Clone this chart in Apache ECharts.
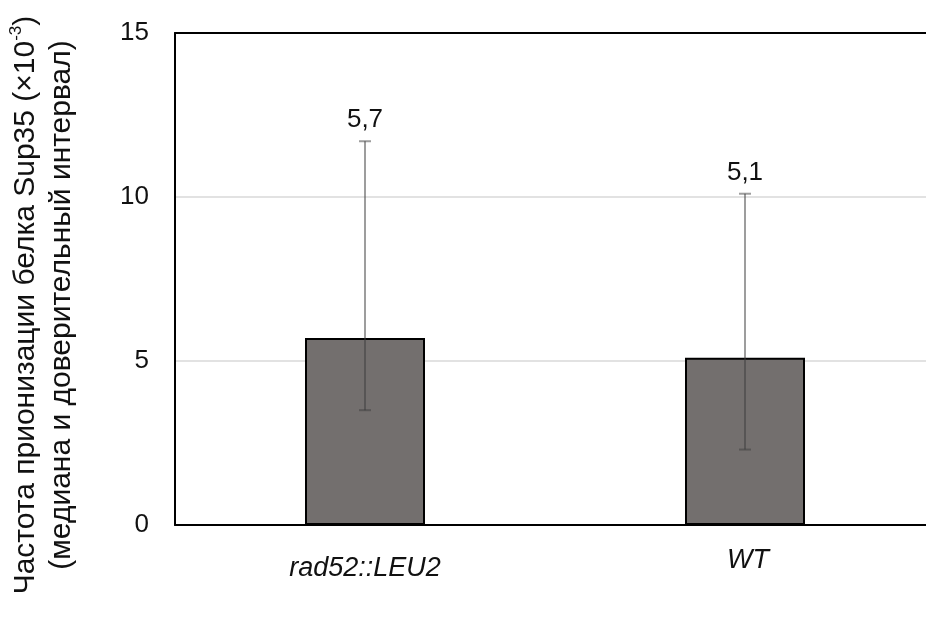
<!DOCTYPE html>
<html>
<head>
<meta charset="utf-8">
<script src="https://cdn.jsdelivr.net/npm/echarts@6/dist/echarts.min.js"></script>
<style>html,body{margin:0;padding:0;background:#fff;overflow:hidden}#c{width:935px;height:619px}</style>
</head>
<body>
<div id="c"></div>
<script>
var categories = ['rad52::LEU2', 'WT'];
var medians = [5.7, 5.1];
var lowerCI = [3.5, 2.3];
var upperCI = [11.7, 10.1];
var yTicks = [0, 5, 10, 15];

var chart = echarts.init(document.getElementById('c'), null, {renderer: 'canvas'});
var FONT = '"Liberation Sans", Arial, sans-serif';

var errData = categories.map(function (c, i) { return [i, lowerCI[i], upperCI[i], medians[i]]; });

var option = {
  backgroundColor: '#fff',
  animation: false,
  grid: {left: 175, top: 33, right: 0, bottom: 94},
  xAxis: [{
    type: 'category', data: categories, position: 'bottom',
    axisLine: {lineStyle: {color: '#000', width: 2}},
    axisTick: {show: false},
    axisLabel: {
      interval: 0, margin: 22, color: '#111', fontSize: 27, fontFamily: FONT, fontStyle: 'italic',
      formatter: function (v, i) { return i === 0 ? '{a|' + v + '}' : '{b|' + v + '}'; },
      rich: {
        a: {fontSize: 27, fontFamily: FONT, fontStyle: 'italic', color: '#111', padding: [8, 0, 0, 0]},
        b: {fontSize: 27, fontFamily: FONT, fontStyle: 'italic', color: '#111', padding: [0, 0, 0, 6]}
      }
    }
  }, {
    type: 'category', data: categories, position: 'top',
    axisLine: {lineStyle: {color: '#000', width: 2}},
    axisTick: {show: false}, axisLabel: {show: false}
  }],
  yAxis: {
    type: 'value', min: 0, max: 15, interval: 5,
    axisLine: {show: true, lineStyle: {color: '#000', width: 2}},
    axisTick: {show: false},
    axisLabel: {margin: 26, color: '#111', fontSize: 26, fontFamily: FONT,
      formatter: function (v) { return yTicks.indexOf(v) >= 0 ? String(v) : ''; }},
    splitLine: {show: true, lineStyle: {color: '#d9d9d9', width: 1.5}}
  },
  graphic: [{
    type: 'text',
    x: 44, y: 305,
    rotation: Math.PI / 2,
    style: {
      text: 'Частота прионизации белка Sup35 (×10{sup|-3})\n(медиана и доверительный интервал)',
      fontSize: 30, fontFamily: FONT, fill: '#111',
      align: 'center', verticalAlign: 'middle', lineHeight: 36,
      rich: {sup: {fontSize: 17, fontFamily: FONT, fill: '#111', verticalAlign: 'top', padding: [0, 0, 12, 0]}}
    }
  }],
  series: [{
    type: 'bar', data: medians, barWidth: 120, xAxisIndex: 0,
    itemStyle: {color: '#736f6e', borderColor: '#000', borderWidth: 2},
    z: 2
  }, {
    type: 'custom', xAxisIndex: 0, z: 5,
    data: errData,
    renderItem: function (params, api) {
      var x = api.value(0);
      var lo = api.coord([x, api.value(1)]);
      var hi = api.coord([x, api.value(2)]);
      var cap = 6;
      var ls = {stroke: 'rgba(60,60,60,0.5)', lineWidth: 2};
      var label = String(api.value(3)).replace('.', ',');
      return {
        type: 'group',
        children: [
          {type: 'line', shape: {x1: lo[0], y1: lo[1], x2: hi[0], y2: hi[1]}, style: ls},
          {type: 'line', shape: {x1: lo[0] - cap, y1: lo[1], x2: lo[0] + cap, y2: lo[1]}, style: ls},
          {type: 'line', shape: {x1: hi[0] - cap, y1: hi[1], x2: hi[0] + cap, y2: hi[1]}, style: ls},
          {type: 'text', x: hi[0], y: hi[1] - 8,
           style: {text: label, fontSize: 26, fontFamily: FONT, fill: '#111', align: 'center', verticalAlign: 'bottom'}}
        ]
      };
    }
  }]
};
chart.setOption(option);
</script>
</body>
</html>
